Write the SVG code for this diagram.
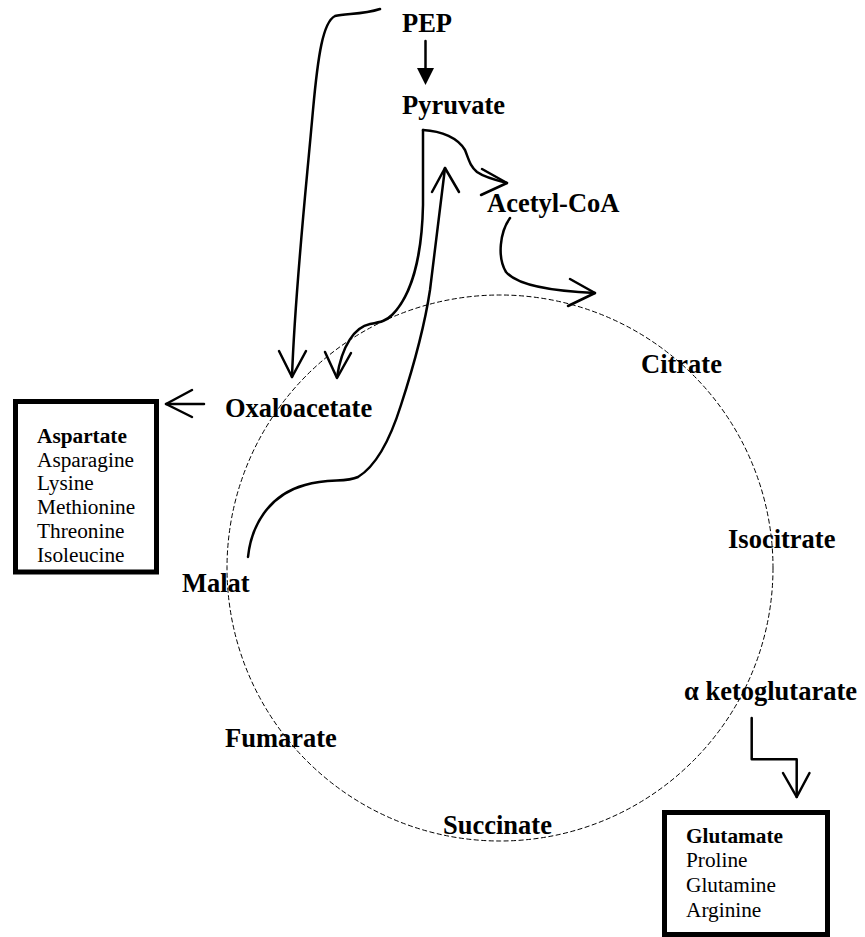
<svg xmlns="http://www.w3.org/2000/svg" width="865" height="937" viewBox="0 0 865 937">
<style>
.lbl{font-family:"Liberation Serif","Times New Roman",serif;font-weight:bold;font-size:26.5px;fill:#000}
.bx{font-family:"Liberation Serif","Times New Roman",serif;font-size:21.3px;fill:#000}
.bxb{font-weight:bold}
.ln{fill:none;stroke:#000;stroke-width:2.5;stroke-linecap:round;stroke-linejoin:round}
.box{fill:#fff;stroke:#000;stroke-width:5}
</style>
<rect width="865" height="937" fill="#fff"/>
<g id="cycle">
<circle cx="500" cy="568" r="273" fill="none" stroke="#000" stroke-width="1" stroke-dasharray="5,2.5"/>
</g>
<g id="connectors">
<path class="ln" d="M380,9 C362,15 345,13 335,16 C323,22 318,55 313,110 C305,200 295,290 292,377"/>
<path class="ln" d="M279,351 L292,377 L306,351"/>
<path class="ln" stroke-width="1.6" d="M425.5,41 L425.5,70"/>
<path d="M417,68 L434,68 L425.5,85 Z" fill="#000"/>
<path class="ln" d="M423,130 C442,131 458,138 465,150 C469,160 470,166 477,172 C484,177 495,180 507,183"/>
<path class="ln" d="M482,169 L507,183 L481,195"/>
<path class="ln" d="M423,130 L423,205 C422,255 412,295 392,315 C386,321 381,322 370,324 C355,327 342,345 337,377"/>
<path class="ln" d="M325,352 L337,378 L351,353"/>
<path class="ln" d="M248,557 C251,527 268,495 305,485 C330,478 345,483 358,477 C376,466 390,440 401,405 C414,365 424,330 430,290 C435,250 440,210 445,168"/>
<path class="ln" d="M432,192 L445,168 L459,192"/>
<path class="ln" d="M510,218 C500,232 497,257 506,272 C517,285 548,291 595,293"/>
<path class="ln" d="M570,279 L595,293 L568,306"/>
<path class="ln" d="M204,404 L166,404"/>
<path class="ln" d="M192,390 L166,404 L192,417"/>
<path class="ln" stroke-width="2" d="M751.7,718 L751.7,759.3 L796.7,759.3 L796.7,797"/>
<path class="ln" stroke-width="2" d="M783,773 L796.7,797 L809.5,773"/>
</g>
<g id="PEP"><text class="lbl" x="402" y="32">PEP</text></g>
<g id="Pyruvate"><text class="lbl" x="402" y="114">Pyruvate</text></g>
<g id="AcetylCoA"><text class="lbl" x="487" y="212">Acetyl-CoA</text></g>
<g id="Citrate"><text class="lbl" x="641" y="373">Citrate</text></g>
<g id="Isocitrate"><text class="lbl" x="728" y="548">Isocitrate</text></g>
<g id="Ketoglutarate"><text class="lbl" x="684" y="700">α ketoglutarate</text></g>
<g id="Succinate"><text class="lbl" x="443" y="834">Succinate</text></g>
<g id="Fumarate"><text class="lbl" x="225" y="747">Fumarate</text></g>
<g id="Malat"><text class="lbl" x="182" y="592">Malat</text></g>
<g id="Oxaloacetate"><text class="lbl" x="225" y="417">Oxaloacetate</text></g>
<g id="AspartateBox">
<rect class="box" x="15.5" y="401.5" width="141" height="170.5"/>
<text class="bx bxb" x="37" y="443">Aspartate</text>
<text class="bx" x="37" y="466.5">Asparagine</text>
<text class="bx" x="37" y="490">Lysine</text>
<text class="bx" x="37" y="514">Methionine</text>
<text class="bx" x="37" y="538">Threonine</text>
<text class="bx" x="37" y="562">Isoleucine</text>
</g>
<g id="GlutamateBox">
<rect class="box" x="664.5" y="812.5" width="163" height="122"/>
<text class="bx bxb" x="686" y="843">Glutamate</text>
<text class="bx" x="686" y="867">Proline</text>
<text class="bx" x="686" y="891.5">Glutamine</text>
<text class="bx" x="686" y="916.5">Arginine</text>
</g>
</svg>
